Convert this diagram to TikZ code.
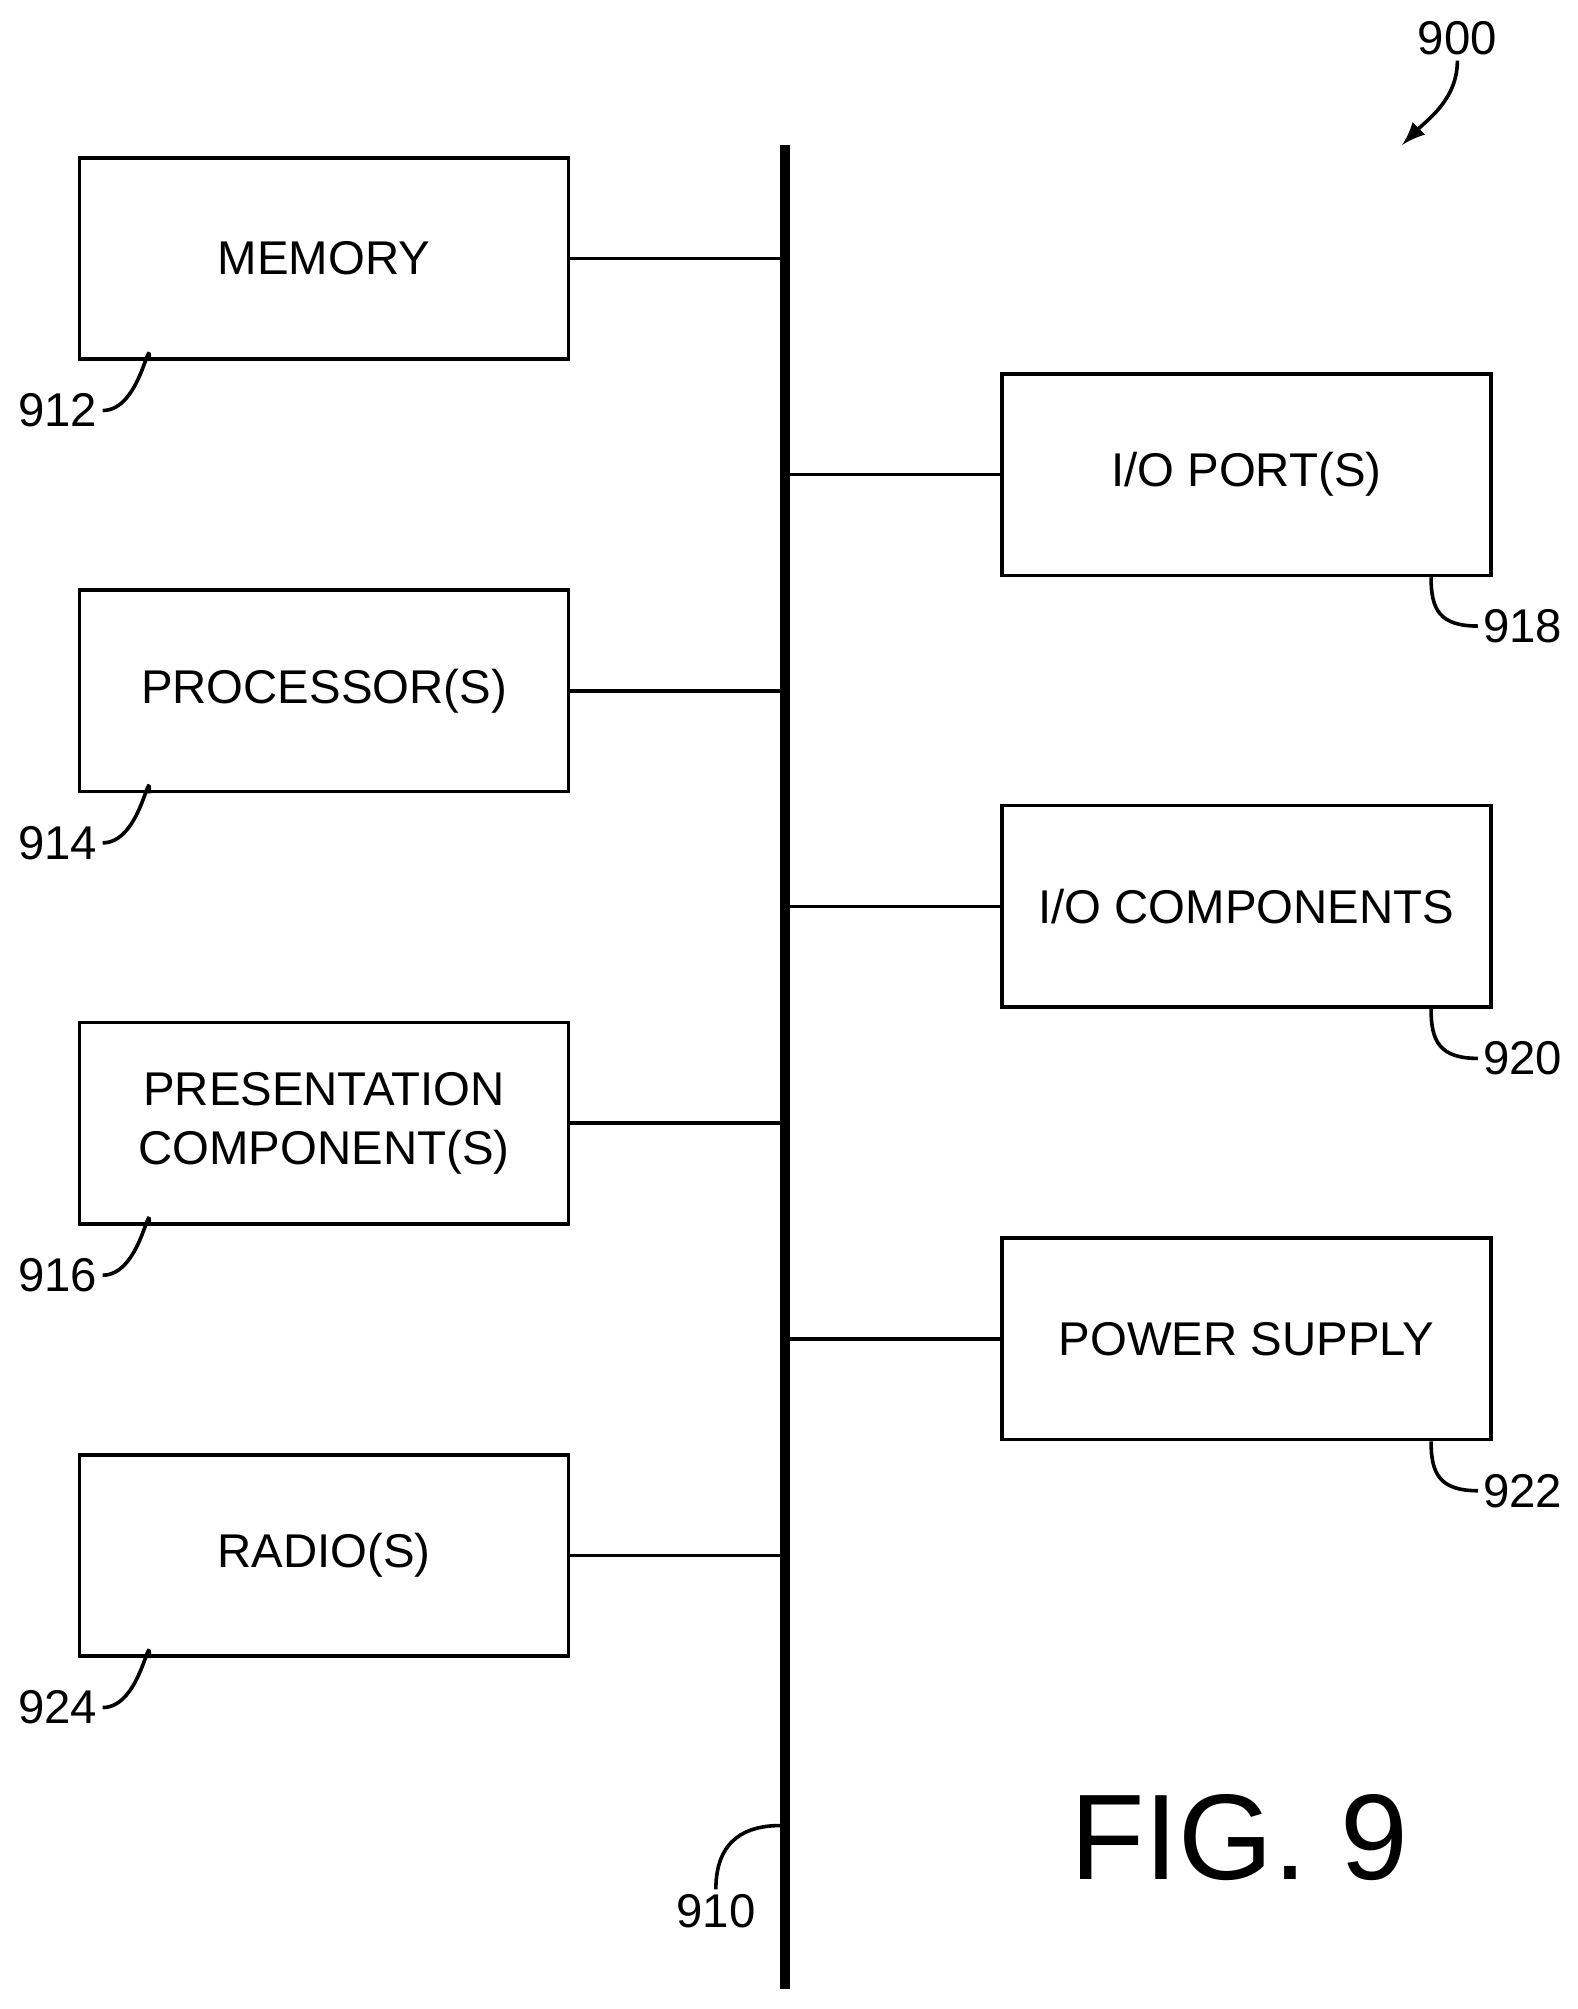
\documentclass[tikz,border=0pt]{standalone}
\usepackage{fontspec}
\setmainfont{Liberation Sans}
\begin{document}
\begin{tikzpicture}[x=0.01cm,y=-0.01cm,
    box/.style={draw,line width=0.8pt,minimum width=3.81cm,minimum height=1.57cm,align=center,font=\fontsize{10.5}{13}\selectfont,inner sep=0pt},
    ref/.style={font=\fontsize{10.5}{13}\selectfont,inner sep=1pt},
    lead/.style={line width=0.8pt}]
    \useasboundingbox (0,0) rectangle (1230,1566);
    %% bus
    \coordinate (bustop) at (612,113);
    \coordinate (busbot) at (612,1550);
    \draw [line width=2.2pt] (bustop) -- (busbot);
    %% left boxes
    \node [box] (mem)  at (252.5,201.5)  {MEMORY};
    \node [box] (proc) at (252.5,538.5)  {PROCESSOR(S)};
    \node [box] (pres) at (252.5,875.5)  {PRESENTATION\\COMPONENT(S)};
    \node [box] (rad)  at (252.5,1212.5) {RADIO(S)};
    %% right boxes
    \node [box] (io)   at (971.5,370)    {I/O PORT(S)};
    \node [box] (ioc)  at (971.5,706.5)  {I/O COMPONENTS};
    \node [box] (pow)  at (971.5,1043.5) {POWER SUPPLY};
    %% connections
    \foreach \b in {mem,proc,pres,rad} \draw [lead] (\b.east) -- (\b.east -| bustop);
    \foreach \b in {io,ioc,pow} \draw [lead] (\b.west) -- (\b.west -| bustop);
    %% reference numerals
    \node [ref] (n912) at (45,320)   {912};
    \node [ref] (n914) at (45,657)   {914};
    \node [ref] (n916) at (45,994)   {916};
    \node [ref] (n924) at (45,1331)  {924};
    \node [ref] (n918) at (1187,488) {918};
    \node [ref] (n920) at (1187,825) {920};
    \node [ref] (n922) at (1187,1162){922};
    \node [ref] (n910) at (558,1490) {910};
    \node [ref] (n900) at (1136,30)  {900};
    \foreach \n/\b in {n912/mem,n914/proc,n916/pres,n924/rad}
      \draw [lead] (\n.east) .. controls +(30,0) and +(0,-25) .. ([xshift=0.56cm]\b.south west);
    \foreach \n/\b in {n918/io,n920/ioc,n922/pow}
      \draw [lead] (\n.west) .. controls +(-30,0) and +(0,25) .. ([xshift=-0.48cm]\b.south east);
    \coordinate (bustip) at (608,1423);
    \draw [lead] (n910.north) .. controls +(0,-40) and +(-25,0) .. (bustip);
    \coordinate (figtip) at (1093,113);
    \draw [lead,-latex] (n900.south) .. controls +(0,30) and +(20,-20) .. (figtip);
    %% figure label
    \node [font=\fontsize{27}{30}\selectfont] (fig) at (966,1432) {FIG. 9};
\end{tikzpicture}
\end{document}
